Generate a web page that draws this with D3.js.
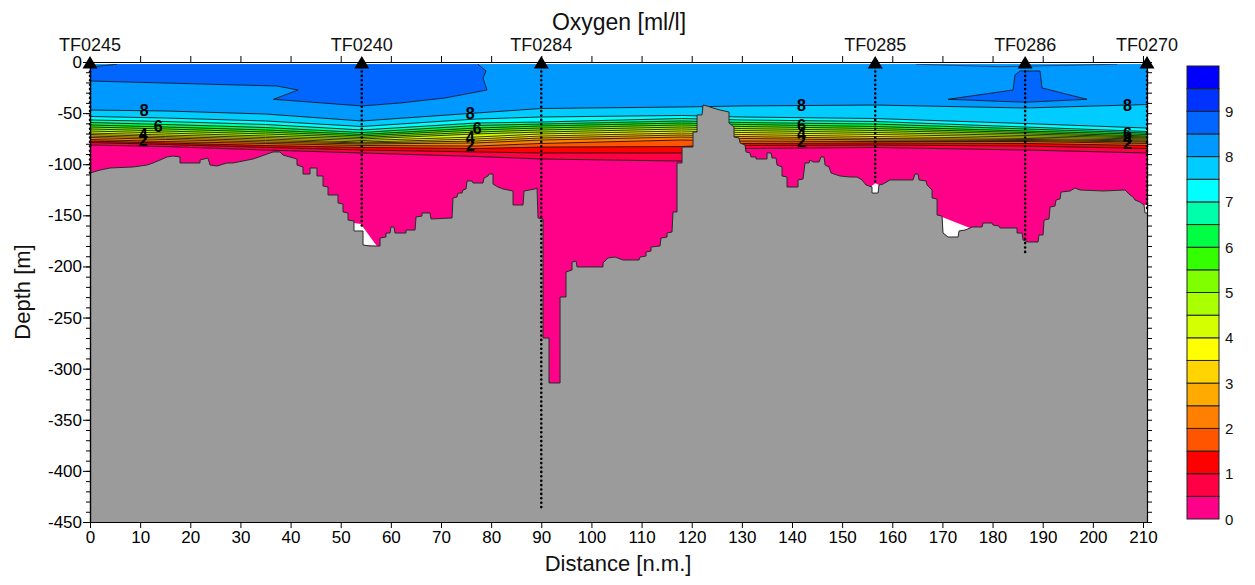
<!DOCTYPE html>
<html><head><meta charset="utf-8">
<script src="https://cdn.jsdelivr.net/npm/d3@7"></script>
<style>body{margin:0;background:#fff}</style>
</head><body><svg id="c" width="1255" height="585"></svg>
<script>
// ---------------- DATA ----------------
const bandColors = ["#ff0088","#ff0044","#ff0000","#ff5500","#ff8000","#ffaa00","#ffd400","#ffff00","#d4ff00","#aaff00","#80ff00","#33ff00","#00ff44","#00ffaa","#00ffff","#00ccff","#0099ff","#0066ff","#0033ff","#0000ff"];
const colorbarLabels = [0,1,2,3,4,5,6,7,8,9];
const xTicks = [0,10,20,30,40,50,60,70,80,90,100,110,120,130,140,150,160,170,180,190,200,210];
const yTicks = [0,-50,-100,-150,-200,-250,-300,-350,-400,-450];

const stationNames = ["TF0245","TF0240","TF0284","TF0285","TF0286","TF0270"];
const stationDist  = [0, 54.2, 90.0, 156.6, 186.5, 210.8];
const stationCast  = [-110, -163, -436, -117, -187, -145];

// isoline depths (m) at these distances
const isoDist = [0, 15, 35, 54.2, 77, 90, 118, 130, 156.6, 186.5, 210.8];
const iso8   = [-47.0,-47.9,-50.9,-57.7,-49.9,-45.5,-44.0,-43.0,-42.1,-45.0,-41.6];
const iso7_5 = [-53.3,-54.8,-57.7,-63.1,-55.8,-53.8,-52.3,-53.8,-55.3,-60.2,-64.6];
const iso7   = [-56.7,-58.2,-61.1,-66.5,-59.7,-58.7,-55.3,-56.7,-58.2,-63.6,-68.0];
const iso6_5 = [-59.2,-61.1,-64.1,-69.0,-62.1,-60.7,-57.7,-59.2,-60.7,-65.5,-69.5];
const iso6   = [-61.6,-63.6,-66.5,-70.9,-64.6,-62.6,-59.7,-61.1,-63.1,-67.5,-70.9];
const iso5_5 = [-63.6,-65.5,-68.5,-72.4,-66.5,-64.6,-61.6,-63.1,-65.1,-69.0,-72.4];
const iso5   = [-65.5,-67.5,-70.4,-73.9,-68.5,-66.5,-63.6,-65.1,-67.0,-70.4,-73.4];
const iso4_5 = [-67.5,-69.5,-72.4,-75.3,-70.4,-68.5,-65.5,-67.0,-69.0,-71.9,-74.3];
const iso4   = [-69.5,-71.4,-73.9,-76.8,-73.4,-70.4,-67.5,-69.0,-70.9,-73.4,-75.3];
const iso3_5 = [-70.9,-72.9,-75.3,-78.3,-75.3,-72.4,-69.5,-70.9,-72.9,-74.8,-76.3];
const iso3   = [-72.4,-74.3,-76.8,-79.2,-77.3,-74.3,-71.4,-72.9,-74.8,-75.8,-77.3];
const iso2_5 = [-73.9,-75.8,-78.3,-80.2,-79.2,-76.3,-73.4,-74.8,-76.3,-76.8,-78.3];
const iso2   = [-75.8,-77.8,-79.7,-81.7,-82.2,-79.7,-76.3,-77.3,-77.8,-77.8,-79.7];
const iso1_5 = [-77.3,-79.2,-81.7,-83.6,-84.6,-83.2,-82.7,-79.7,-79.2,-79.7,-81.7];
const iso1   = [-78.8,-80.7,-83.6,-86.1,-88.0,-89.0,-89.0,-81.7,-81.2,-82.2,-84.6];
const iso0_5 = [-81.2,-82.7,-86.1,-89.0,-92.4,-94.9,-96.9,-84.6,-83.6,-86.1,-89.0];
const isoLevels = [8,7.5,7,6.5,6,5.5,5,4.5,4,3.5,3,2.5,2,1.5,1,0.5];

// 8.5 ml/l regions (dist, depth)
const blobLeft  = [[0,-4.9],[5.39,-2.2],[77.38,-2.2],[78.98,-8.8],[78.38,-15.7],[79.18,-27.4],[70.80,-35.2],[61.83,-40.1],[54.25,-43.0],[36.6,-36.5],[41.48,-27.4],[37.30,-23.5],[0,-18.6]];
const blobRight = [[171.12,-36.5],[184.08,-27.4],[184.48,-12.7],[185.48,-8.8],[189.47,-8.8],[189.87,-25.4],[198.84,-36.5],[186.48,-39.4]];
const lensRight = [[164.74,-2.2],[181.49,-4.6],[204.83,-2.2]];

// contour labels
const labelDist  = [10.8,13.6,10.6,10.6, 75.8,77.2,75.8,75.8, 141.9,141.9,141.9,141.9, 206.9,206.9,206.9,206.9];
const labelLevel = [8,6,4,2, 8,6,4,2, 8,6,4,2, 8,6,4,2];

// areas without data (dist, depth)
const gapA = [[52.65,-157.5],[54.0,-158.5],[57.2,-180.0],[54.45,-179.0],[54.45,-165.3],[52.65,-165.3]];
const gapB = [[155.96,-121.0],[156.6,-118.5],[157.36,-120.3],[157.16,-128.2],[155.96,-128.2]];
const gapC = [[168.93,-149.7],[175.51,-162.4],[174.51,-164.4],[173.32,-165.3],[173.12,-171.2],[171.12,-171.2],[170.12,-167.3],[169.92,-150.7]];
const gapD = [[210.21,-139.9],[211.01,-139.9],[211.01,-147.7],[210.41,-147.7]];

// bathymetry
const bathyDist = [0,2.0,3.99,8.58,11.37,12.56,13.96,15.36,16.55,17.95,
17.95,21.94,21.94,23.53,23.93,25.33,27.32,28.52,32.51,36.50,
37.89,38.49,41.28,41.28,42.48,42.48,43.88,43.88,45.27,45.27,
46.47,46.47,47.47,47.47,49.46,49.46,50.46,50.46,51.46,51.46,
52.65,52.65,54.45,54.45,55.84,57.84,57.84,59.03,59.03,59.83,
60.03,60.63,60.83,63.02,63.02,64.82,65.02,66.21,66.21,67.81,
68.01,72.20,72.40,73.19,73.39,74.19,74.39,74.99,75.19,76.19,
76.39,78.38,78.58,79.38,79.58,80.37,80.37,81.37,82.37,84.36,
84.36,86.36,86.56,88.75,89.15,89.35,90.35,90.35,91.54,91.54,
93.74,93.74,94.93,94.93,96.13,96.13,96.93,97.13,102.31,102.31,
103.31,104.71,106.30,109.49,109.69,110.89,110.89,111.89,111.89,113.68,
113.88,115.08,115.08,116.07,116.27,117.07,117.07,118.07,118.07,120.26,
120.26,121.06,121.06,122.06,122.26,123.06,124.25,125.65,127.44,127.44,
128.44,128.44,129.44,129.64,130.63,130.83,131.63,131.83,132.83,132.83,
135.02,135.02,135.82,136.02,136.82,137.02,138.01,138.01,139.01,139.01,
141.20,141.20,142.20,142.60,143.40,143.60,144.20,145.39,145.79,146.39,
146.59,147.39,147.79,149.58,151.58,152.97,153.97,154.77,155.96,155.96,
157.16,157.36,158.16,159.55,164.14,164.54,165.14,165.34,166.73,166.93,
167.93,167.93,168.93,168.93,169.92,170.12,171.12,173.12,173.32,174.51,
175.51,175.91,177.90,178.10,179.90,180.09,181.29,181.49,184.88,184.88,
185.88,186.08,187.08,189.07,189.27,190.07,190.27,191.26,191.46,192.46,
192.66,193.46,193.66,195.45,196.45,197.45,202.03,206.42,207.42,208.02,
208.42,209.41,210.21,210.41,211.01];
const bathyDepth = [-108.6,-105.7,-103.7,-102.7,-100.8,-98.8,-95.9,-92.9,-92.0,-92.9,
-98.8,-98.8,-95.9,-93.9,-100.8,-101.7,-98.8,-98.8,-94.9,-88.0,
-88.0,-91.0,-94.9,-100.8,-102.7,-109.6,-109.6,-103.7,-103.7,-111.5,
-111.5,-121.3,-122.3,-130.1,-130.1,-137.9,-138.9,-146.7,-147.7,-154.6,
-155.5,-165.3,-165.3,-179.0,-180.0,-180.0,-172.2,-171.2,-167.3,-167.3,
-161.4,-161.4,-167.3,-167.3,-164.4,-164.4,-151.6,-150.7,-147.7,-147.7,
-153.6,-152.6,-133.0,-132.1,-128.2,-128.2,-125.2,-124.2,-116.4,-116.4,
-118.4,-118.4,-113.5,-111.5,-109.6,-109.6,-119.4,-122.3,-124.2,-126.2,
-139.9,-139.9,-126.2,-124.2,-123.3,-152.6,-153.6,-270.0,-270.0,-314.0,
-314.0,-229.9,-229.9,-205.4,-203.5,-195.7,-194.7,-200.5,-200.5,-196.6,
-191.7,-190.8,-193.7,-193.7,-190.8,-189.8,-185.9,-184.9,-181.0,-180.0,
-172.2,-171.2,-167.3,-166.3,-146.7,-146.7,-98.8,-98.8,-83.2,-83.2,
-68.5,-68.5,-51.8,-51.8,-42.1,-43.0,-45.0,-47.0,-48.9,-59.7,
-63.6,-73.4,-74.3,-79.2,-81.2,-88.0,-89.0,-92.9,-92.9,-94.9,
-94.9,-89.0,-89.0,-93.9,-93.9,-100.8,-102.7,-111.5,-112.5,-122.3,
-122.3,-115.4,-114.5,-98.8,-98.8,-95.9,-97.8,-97.8,-92.9,-92.9,
-100.8,-102.7,-108.6,-111.5,-112.5,-112.5,-115.4,-120.3,-122.3,-128.2,
-128.2,-120.3,-119.4,-115.4,-115.4,-109.6,-109.6,-115.4,-116.4,-120.3,
-125.2,-133.0,-134.0,-149.7,-150.7,-167.3,-171.2,-171.2,-165.3,-164.4,
-162.4,-161.4,-161.4,-157.5,-157.5,-159.5,-160.4,-162.4,-162.4,-167.3,
-167.3,-174.1,-176.1,-176.1,-169.2,-169.2,-154.6,-153.6,-141.9,-140.9,
-135.0,-134.0,-127.2,-126.2,-123.3,-125.2,-126.2,-125.2,-130.1,-132.1,
-135.0,-137.0,-139.9,-147.7,-147.7];

const fieldTop = -2;
const depthMin = -450;
const distMax = 210.8;

// ---------------- DRAW ----------------
const FONT = "'Liberation Sans', Arial, Helvetica, sans-serif";
const svg = d3.select("#c").style("font-family", FONT);
const x = d3.scaleLinear().domain([0, distMax]).range([90, 1147]);
const y = d3.scaleLinear().domain([depthMin, 0]).range([522, 62]);

svg.append("defs").append("clipPath").attr("id","plotClip").append("rect")
  .attr("x", x(0)).attr("y", y(fieldTop))
  .attr("width", x(distMax) - x(0)).attr("height", y(depthMin) - y(fieldTop));

const field = svg.append("g").attr("clip-path","url(#plotClip)");
field.append("rect").attr("x", x(0)).attr("y", y(fieldTop))
  .attr("width", x(distMax) - x(0)).attr("height", y(depthMin) - y(fieldTop))
  .attr("fill", bandColors[16]);

const isoArrays = [iso8,iso7_5,iso7,iso6_5,iso6,iso5_5,iso5,iso4_5,iso4,iso3_5,iso3,iso2_5,iso2,iso1_5,iso1,iso0_5];
const areaBelow = d3.area().x((d,i)=>x(isoDist[i])).y0(y(depthMin)).y1(d=>y(d));
const isoLine = d3.line().x((d,i)=>x(isoDist[i])).y(d=>y(d));

isoLevels.forEach((L, k) => {
  field.append("path").attr("d", areaBelow(isoArrays[k]))
    .attr("fill", bandColors[Math.round(L*2) - 1]);
});

const poly = d3.line().x(d=>x(d[0])).y(d=>y(d[1]));
field.append("path").attr("d", poly(blobLeft) + "Z").attr("fill", bandColors[17]);
field.append("path").attr("d", poly(blobRight) + "Z").attr("fill", bandColors[17]);

isoLevels.forEach((L, k) => {
  field.append("path").attr("d", isoLine(isoArrays[k]))
    .attr("fill","none").attr("stroke","#111").attr("stroke-width",0.85);
});
const blobLeftOutline = blobLeft.slice(2).concat(blobLeft.slice(0,2));
field.append("path").attr("d", poly(blobLeftOutline)).attr("fill","none").attr("stroke","#111").attr("stroke-width",0.8);
field.append("path").attr("d", poly(blobRight) + "Z").attr("fill","none").attr("stroke","#111").attr("stroke-width",0.8);
field.append("path").attr("d", poly(lensRight)).attr("fill","none").attr("stroke","#224").attr("stroke-width",0.7);

// contour labels
labelDist.forEach((dd, i) => {
  const k = isoLevels.indexOf(labelLevel[i]);
  const interp = d3.scaleLinear().domain(isoDist).range(isoArrays[k]);
  field.append("text").attr("x", x(dd)).attr("y", y(interp(dd)))
    .attr("text-anchor","middle").attr("dominant-baseline","central")
    .attr("font-size",16).attr("font-weight","bold").attr("fill","#000")
    .text(labelLevel[i]);
});

// no-data areas
[gapA, gapB, gapC, gapD].forEach(g => {
  field.append("path").attr("d", poly(g) + "Z").attr("fill","#fff");
});

// bathymetry
const bathy = bathyDist.map((d,i)=>[d, bathyDepth[i]]);
const bathyArea = d3.area().x(d=>x(d[0])).y0(y(depthMin)).y1(d=>y(d[1]));
field.append("path").attr("d", bathyArea(bathy)).attr("fill","#9b9b9b");
field.append("path").attr("d", poly(bathy)).attr("fill","none").attr("stroke","#2a2a2a").attr("stroke-width",1);

// axes
function styleAxis(g, fs) {
  g.attr("font-family", FONT).attr("font-size", fs);
  g.selectAll("path.domain").attr("stroke","#000").attr("stroke-width",1.2);
  g.selectAll(".tick line").attr("stroke","#000").attr("stroke-width",1);
  g.selectAll(".tick text").attr("fill","#000");
}
svg.append("g").attr("transform",`translate(0,${y(depthMin)})`)
  .call(d3.axisBottom(x).tickValues(xTicks).tickSize(6).tickSizeOuter(0).tickPadding(3).tickFormat(d=>String(d)))
  .call(g=>styleAxis(g,17));
svg.append("g").attr("transform",`translate(0,${y(0)})`)
  .call(d3.axisTop(x).tickValues(xTicks.filter(v=>v>0)).tickSize(6).tickSizeOuter(0).tickFormat(""))
  .call(g=>styleAxis(g,17));
svg.append("g").attr("transform",`translate(${x(0)},0)`)
  .call(d3.axisLeft(y).tickValues(d3.range(depthMin, 1, 10)).tickSize(4).tickSizeOuter(0).tickFormat(""))
  .call(g=>styleAxis(g,17));
svg.append("g").attr("transform",`translate(${x(0)},0)`)
  .call(d3.axisLeft(y).tickValues(yTicks).tickSize(7).tickSizeOuter(0).tickPadding(1).tickFormat(d=>String(d)))
  .call(g=>styleAxis(g,17));
svg.append("g").attr("transform",`translate(${x(distMax)},0)`)
  .call(d3.axisRight(y).tickValues(d3.range(depthMin, 1, 10)).tickSize(5).tickSizeOuter(0).tickFormat(""))
  .call(g=>styleAxis(g,17));

// stations
stationDist.forEach((sd, i) => {
  svg.append("line").attr("x1", x(sd)).attr("x2", x(sd))
    .attr("y1", y(-5)).attr("y2", y(stationCast[i]))
    .attr("stroke","#000").attr("stroke-width",2.6)
    .attr("stroke-linecap","round").attr("stroke-dasharray","0,4.4");
  const cx = x(sd);
  svg.append("path").attr("d", `M${cx-7.5},68.5L${cx+7.5},68.5L${cx},56Z`).attr("fill","#000");
  svg.append("text").attr("x", cx).attr("y", 51).attr("text-anchor","middle")
    .attr("font-size",18).attr("fill","#111").text(stationNames[i]);
});

// titles
svg.append("text").attr("x", 619).attr("y", 30).attr("text-anchor","middle")
  .attr("font-size",23).attr("fill","#111").text("Oxygen [ml/l]");
svg.append("text").attr("x", 618).attr("y", 571).attr("text-anchor","middle")
  .attr("font-size",22).attr("fill","#111").text("Distance [n.m.]");
svg.append("text").attr("transform","translate(30,292) rotate(-90)").attr("text-anchor","middle")
  .attr("font-size",22).attr("fill","#111").text("Depth [m]");

// colorbar
const cb = d3.scaleLinear().domain([0,10]).range([519,66]);
bandColors.forEach((c, i) => {
  svg.append("rect").attr("x",1187).attr("width",32)
    .attr("y", cb((i+1)*0.5)).attr("height", cb(i*0.5) - cb((i+1)*0.5))
    .attr("fill", c).attr("stroke","#222").attr("stroke-width",1);
});
colorbarLabels.forEach(v => {
  svg.append("text").attr("x",1225).attr("y", cb(v)).attr("dominant-baseline","central")
    .attr("font-size",15).attr("fill","#111").text(v);
});
</script></body></html>
